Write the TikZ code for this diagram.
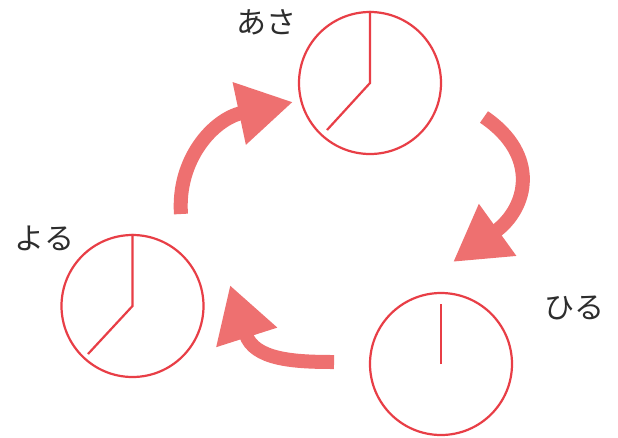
\documentclass[tikz,border=0pt]{standalone}
\usepackage{fontspec}
\newfontfamily\jpfont{Noto Sans CJK JP}
\usetikzlibrary{arrows.meta}
\definecolor{clockred}{RGB}{232,62,70}
\definecolor{arrowred}{RGB}{238,112,112}
\definecolor{labelgray}{RGB}{45,45,45}
\tikzset{
  clockface/.style={circle, draw=clockred, line width=2.2pt, minimum size=142pt, inner sep=0pt},
  hand/.style={draw=clockred, line width=2.2pt},
  bigarrow/.style={draw=arrowred, line width=14pt, -{Triangle[length=55pt,width=60pt]}},
  lbl/.style={font=\jpfont\fontsize{30}{30}\selectfont, text=labelgray, inner sep=0pt}
}
\begin{document}
\begin{tikzpicture}[x=1pt,y=-1pt]
  \useasboundingbox[fill=white] (0,0) rectangle (618,437);
  % clocks
  \node[clockface] (asa) at (370,83) {};
  \node[clockface] (yoru) at (132.5,306) {};
  \node[clockface] (hiru) at (441,364) {};
  % hands
  \draw[hand] (asa.north) -- (asa.center) -- ++(-43,47);
  \draw[hand] (yoru.north) -- (yoru.center) -- ++(-44.5,48);
  \draw[hand] (hiru.center) -- ++(0,-60);
  % labels
  \node[lbl] (lasa) at (266,22) {あさ};
  \node[lbl] (lyoru) at (44.5,238.5) {よる};
  \node[lbl] (lhiru) at (574.5,308) {ひる};
  % arrows
  \coordinate (a1s) at (181,214);
  \coordinate (a1e) at (293,102);
  \coordinate (a2s) at (484,117);
  \coordinate (a2e) at (453,262);
  \coordinate (a3s) at (334,362);
  \coordinate (a3e) at (230,285);
  \draw[bigarrow] (a1s) .. controls (177,160) and (213,119) .. (a1e);
  \draw[bigarrow] (a2s) .. controls (540,155) and (528,208) .. (a2e);
  \draw[bigarrow] (a3s) .. controls (295,362) and (254,360) .. (a3e);
\end{tikzpicture}
\end{document}
